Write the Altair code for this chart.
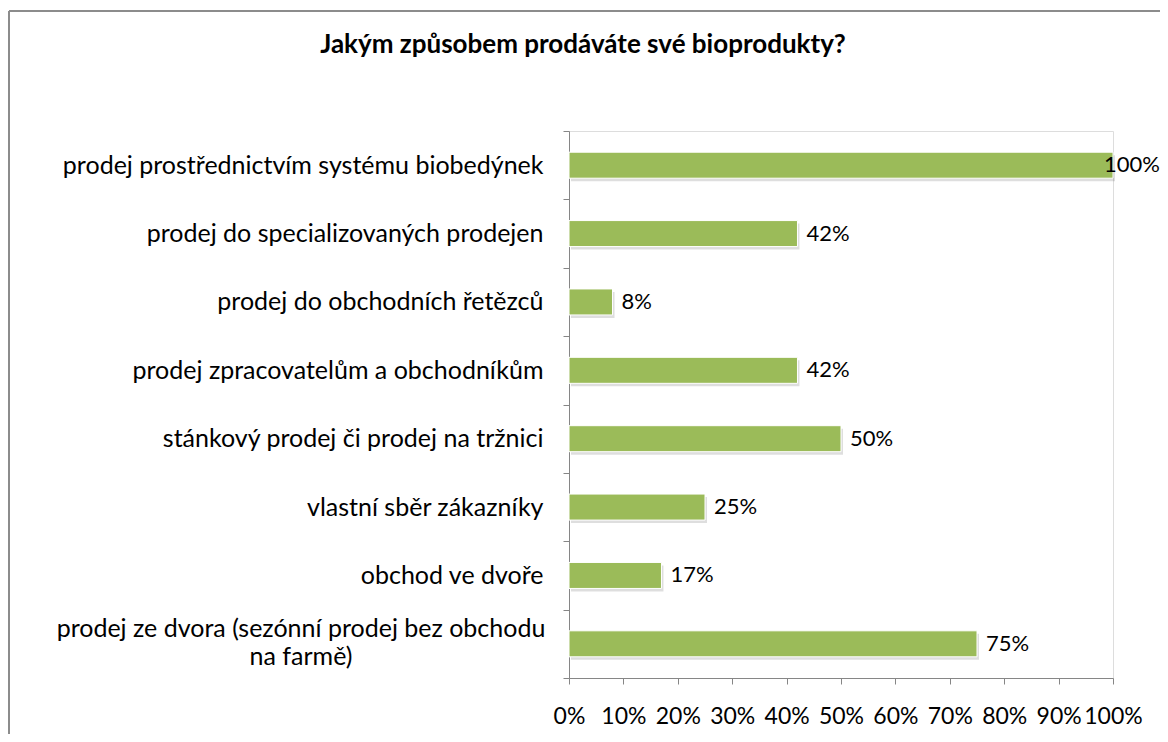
import altair as alt
import pandas as pd

categories = [
    "prodej prostřednictvím systému biobedýnek",
    "prodej do specializovaných prodejen",
    "prodej do obchodních řetězců",
    "prodej zpracovatelům a obchodníkům",
    "stánkový prodej či prodej na tržnici",
    "vlastní sběr zákazníky",
    "obchod ve dvoře",
    "prodej ze dvora (sezónní prodej bez obchodu na farmě)",
]
values = [1.00, 0.42, 0.08, 0.42, 0.50, 0.25, 0.17, 0.75]
x_ticks = [0, 0.1, 0.2, 0.3, 0.4, 0.5, 0.6, 0.7, 0.8, 0.9, 1.0]
title_text = "Jakým způsobem prodáváte své bioprodukty?"
wrap_lines = ["prodej ze dvora (sezónní prodej bez obchodu", "na farmě)"]

df = pd.DataFrame({"cat": categories, "v": values})
df_wrap = pd.DataFrame({"line": wrap_lines, "i": [0, 1], "cat": [categories[-1]] * 2})
df_title = pd.DataFrame({"t": [title_text]})

W, H = 544, 547
PAD_L, PAD_T, PAD_R, PAD_B = 561, 123, 47, 56
FONT = "Lato"
GREEN = "#9BBB59"
AXIS_GRAY = "#868686"
CAT_FS = 25
NUM_FS = 23
VAL_FS = 22

label_expr = "datum.label == '" + categories[-1] + "' ? '' : datum.label"

y_enc = alt.Y(
    "cat:N",
    sort=categories,
    scale=alt.Scale(paddingInner=0, paddingOuter=0),
    axis=alt.Axis(
        title=None,
        tickBand="extent",
        domainColor=AXIS_GRAY,
        tickColor=AXIS_GRAY,
        tickSize=6,
        labelPadding=20,
        labelFont=FONT,
        labelFontSize=CAT_FS,
        labelColor="#000000",
        labelLimit=700,
        labelExpr=label_expr,
    ),
)
x_enc = alt.X(
    "v:Q",
    scale=alt.Scale(domain=[0, 1], nice=False),
    axis=alt.Axis(
        title=None,
        values=x_ticks,
        format="%",
        grid=False,
        domainColor=AXIS_GRAY,
        tickColor=AXIS_GRAY,
        tickSize=6,
        labelPadding=21,
        labelFont=FONT,
        labelFontSize=NUM_FS,
        labelColor="#000000",
        labelFlush=False,
    ),
)

base = alt.Chart(df)

shadow = base.mark_bar(color="#000000", opacity=0.13, size=26, xOffset=2, yOffset=3).encode(
    x=alt.X("v:Q", scale=alt.Scale(domain=[0, 1], nice=False)),
    y=alt.Y("cat:N", sort=categories),
)
bars = base.mark_bar(color=GREEN, size=26, stroke="#ffffff", strokeWidth=1).encode(
    x=x_enc, y=y_enc
)
labels = base.mark_text(
    align="left",
    baseline="middle",
    font=FONT,
    fontSize=VAL_FS,
    color="#000000",
    dx={"expr": "datum.v >= 1 ? -9 : 9"},
).encode(
    x=alt.X("v:Q"),
    y=alt.Y("cat:N", sort=categories),
    text=alt.Text("v:Q", format=".0%"),
)

wrap_label = alt.Chart(df_wrap).mark_text(
    align="center",
    baseline="middle",
    font=FONT,
    fontSize=CAT_FS,
    color="#000000",
    dy={"expr": "datum.i == 0 ? -15 : 13"},
).encode(
    x=alt.value(-268),
    y=alt.Y("cat:N", sort=categories),
    text="line:N",
)

title = alt.Chart(df_title).mark_text(
    align="center",
    baseline="alphabetic",
    font=FONT,
    fontSize=26,
    fontWeight="bold",
    color="#000000",
).encode(
    x=alt.value(14),
    y=alt.value(-78),
    text="t:N",
)

border_top = base.mark_rule(color="#8c8c8c", strokeWidth=2).encode(
    x=alt.value(-PAD_L + 1), x2=alt.value(W + PAD_R), y=alt.value(-PAD_T + 3)
)
border_left = base.mark_rule(color="#8c8c8c", strokeWidth=2).encode(
    x=alt.value(-PAD_L + 1), y=alt.value(-PAD_T + 3), y2=alt.value(H + PAD_B)
)

chart = (
    alt.layer(shadow, bars, labels, wrap_label, title, border_top, border_left)
    .properties(
        width=W,
        height=H,
        autosize=alt.AutoSizeParams(type="none"),
        padding={"left": PAD_L, "top": PAD_T, "right": PAD_R, "bottom": PAD_B},
    )
    .configure_view(stroke=None)
    .configure(background="white")
)

chart.save("out.html", embed_options={"renderer": "svg", "actions": False})
